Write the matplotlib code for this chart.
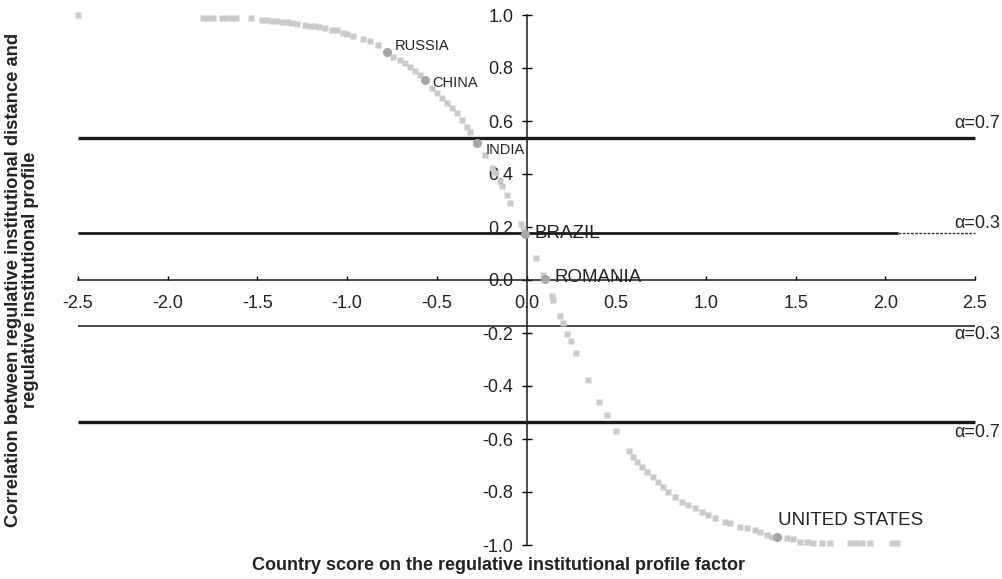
import matplotlib
matplotlib.use("Agg")
import matplotlib.pyplot as plt

plt.rcParams['font.family'] = ['Liberation Sans', 'DejaVu Sans']

# Grey square markers (country scores vs correlation)
curve_x = [-2.500, -1.803, -1.775, -1.748, -1.697, -1.675, -1.642, -1.619, -1.536,
           -1.474, -1.447, -1.419, -1.391, -1.363, -1.335, -1.307, -1.279, -1.235,
           -1.207, -1.179, -1.157, -1.123, -1.084, -1.056, -1.023, -1.001, -0.967,
           -0.911, -0.872, -0.828, -0.744, -0.705, -0.677, -0.649, -0.622, -0.594,
           -0.528, -0.501, -0.473, -0.445, -0.417, -0.389, -0.361, -0.333, -0.315,
           -0.231, -0.194, -0.176, -0.148, -0.138, -0.110, -0.092, -0.032, -0.021,
           0.053, 0.090, 0.140, 0.148, 0.187, 0.205, 0.227, 0.246, 0.276, 0.344,
           0.406, 0.447, 0.499, 0.571, 0.595, 0.614, 0.642, 0.670, 0.707, 0.735,
           0.763, 0.790, 0.828, 0.865, 0.902, 0.939, 0.977, 1.013, 1.051, 1.106,
           1.134, 1.190, 1.227, 1.274, 1.301, 1.339, 1.367, 1.450, 1.487, 1.525,
           1.562, 1.599, 1.645, 1.692, 1.803, 1.837, 1.870, 1.914, 2.037, 2.065]
curve_y = [1.000, 0.990, 0.990, 0.990, 0.989, 0.989, 0.988, 0.988, 0.988,
           0.981, 0.981, 0.979, 0.977, 0.975, 0.974, 0.970, 0.966, 0.962,
           0.958, 0.957, 0.955, 0.952, 0.943, 0.942, 0.932, 0.928, 0.921,
           0.909, 0.902, 0.887, 0.843, 0.830, 0.819, 0.804, 0.789, 0.774,
           0.723, 0.705, 0.686, 0.667, 0.648, 0.629, 0.604, 0.578, 0.560,
           0.472, 0.422, 0.403, 0.374, 0.355, 0.321, 0.291, 0.210, 0.195,
           0.082, 0.019, -0.060, -0.075, -0.136, -0.163, -0.204, -0.232, -0.277, -0.377,
           -0.459, -0.508, -0.569, -0.646, -0.667, -0.686, -0.705, -0.723, -0.742, -0.761,
           -0.780, -0.799, -0.818, -0.837, -0.849, -0.862, -0.874, -0.887, -0.899, -0.912,
           -0.918, -0.931, -0.937, -0.943, -0.950, -0.962, -0.969, -0.975, -0.978, -0.987,
           -0.990, -0.992, -0.992, -0.992, -0.992, -0.992, -0.992, -0.992, -0.992, -0.992]

# Labelled countries
countries = ['RUSSIA', 'CHINA', 'INDIA', 'BRAZIL', 'ROMANIA', 'UNITED STATES']
country_x = [-0.779, -0.566, -0.274, -0.008, 0.103, 1.395]
country_y = [0.862, 0.755, 0.516, 0.174, 0.003, -0.969]

# Significance thresholds
thresh_values = [0.537, 0.177, -0.175, -0.535]
thresh_labels = ['\u03b1=0.7', '\u03b1=0.3', '\u03b1=0.3', '\u03b1=0.7']

xticks = [-2.5, -2.0, -1.5, -1.0, -0.5, 0.0, 0.5, 1.0, 1.5, 2.0, 2.5]
yticks = [-1.0, -0.8, -0.6, -0.4, -0.2, 0.0, 0.2, 0.4, 0.6, 0.8, 1.0]

fig = plt.figure(figsize=(10.03, 5.79), dpi=100)
ax = fig.add_axes([78/1003, 1-545/579, (975-78)/1003, (545-15)/579])
ax.set_xlim(-2.5, 2.5)
ax.set_ylim(-1.0, 1.0)

# threshold lines (upper alpha=0.3 line fades to a dotted tail at the right)
line_w = [2.4, 2.0, 1.1, 2.4]
line_end = [2.5, 2.07, 2.5, 2.5]
for v, lw, end in zip(thresh_values, line_w, line_end):
    ax.plot([-2.5, end], [v, v], color='#1a1a1a', lw=lw, solid_capstyle='butt',
            zorder=2, clip_on=False)
    if end < 2.5:
        ax.plot([end, 2.5], [v, v], color='#333333', lw=1.0, linestyle=(0, (2, 1)),
                zorder=2, clip_on=False)
label_offsets = [10, 7, -6, -8]
for v, lab, off in zip(thresh_values, thresh_labels, label_offsets):
    ax.annotate(lab, xy=(2.5, v), xytext=(18, off), textcoords='offset points',
                ha='right', va='center', fontsize=13, color='#222222',
                annotation_clip=False)

ax.plot(curve_x, curve_y, linestyle='none', marker='s', ms=4.4,
        color='#c8cacc', mec='none', zorder=3, clip_on=False)
ax.plot(country_x, country_y, linestyle='none', marker='o', ms=6.5,
        color='#a6a6a6', mec='none', zorder=4, clip_on=False)

label_pos = [(6, 4, 10.5), (5, -2, 10.5), (6, -5, 10.5), (7, 0, 13.5), (7, 1, 13.5), (1, 12, 13.5)]
for name, x, y, (dx, dy, fs) in zip(countries, country_x, country_y, label_pos):
    ax.annotate(name, xy=(x, y), xytext=(dx, dy), textcoords='offset points',
                ha='left', va='center', fontsize=fs, color='#222222', zorder=5)

# spines centred
for s in ['top', 'right']:
    ax.spines[s].set_visible(False)
ax.spines['left'].set_position(('data', 0))
ax.spines['bottom'].set_position(('data', 0))
ax.spines['left'].set_linewidth(1.1)
ax.spines['bottom'].set_linewidth(1.1)
ax.spines['left'].set_color('#1a1a1a')
ax.spines['bottom'].set_color('#1a1a1a')

ax.set_xticks(xticks)
ax.set_xticklabels([f'{t:.1f}' for t in xticks])
ax.set_yticks(yticks)
ax.set_yticklabels([f'{t:.1f}' for t in yticks])
ax.tick_params(axis='x', direction='in', length=3, width=1, pad=11,
               labelsize=13, labelcolor='#222222')
ax.tick_params(axis='y', direction='inout', length=7, width=1, pad=6,
               labelsize=13, labelcolor='#222222')

fig.text(499/1003, 1-565/579, 'Country score on the regulative institutional profile factor',
         ha='center', va='center', fontsize=13, fontweight='bold', color='#222222')
fig.text(22/1003, 1-280/579,
         'Correlation between regulative institutional distance and\nregulative institutional profile',
         ha='center', va='center', rotation=90, fontsize=13.2, fontweight='bold',
         color='#222222', linespacing=1.0)

fig.savefig('out.png', dpi=100)
